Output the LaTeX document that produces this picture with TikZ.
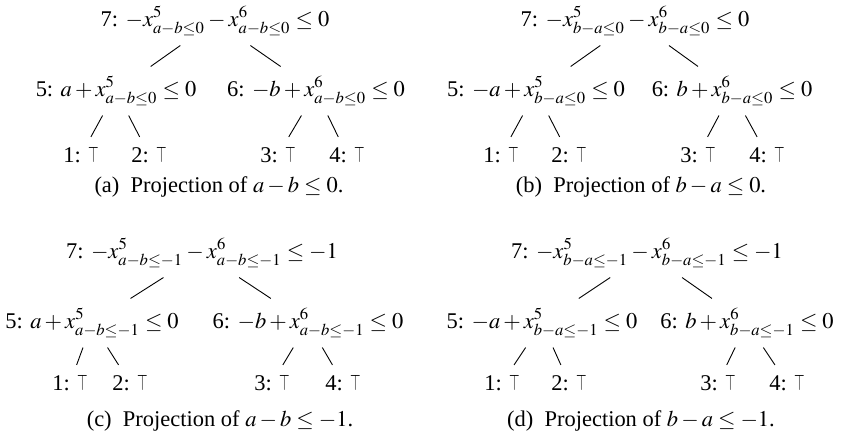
\documentclass[tikz,border=0pt]{standalone}
\usepackage{mathptmx}
\usepackage{fontspec}
\setmainfont{Liberation Serif}
\newcommand{\thintop}{\scalebox{0.6}[1]{$\top$}}

\begin{document}
\begin{tikzpicture}[
x=0.445pt, y=-0.445pt,
term/.style={inner xsep=1pt, inner ysep=4.3pt},
capt/.style={inner sep=0pt},
link/.style={line width=0.4pt}
]
\useasboundingbox (0,0) rectangle (845,443);

% (a) projection of a-b<=0
\node[term] (a7) at (215,21) {7: $-x^5_{a-b\le 0}-x^6_{a-b\le 0}\le 0$};
\node[term] (a5) at (116,91) {5: $a+x^5_{a-b\le 0}\le 0$};
\node[term] (a6) at (316,91) {6: $-b+x^6_{a-b\le 0}\le 0$};
\node[term] (a1) at (81,155) {1: \thintop};
\node[term] (a2) at (149,155) {2: \thintop};
\node[term] (a3) at (278,155) {3: \thintop};
\node[term] (a4) at (347,155) {4: \thintop};
\node[capt] (acap) at (219,187) {(a)\ \ Projection of $a-b\le 0$.};

\draw[link] (a7) -- (a5);
\draw[link] (a7) -- (a6);
\draw[link] (a5) -- (a1);
\draw[link] (a5) -- (a2);
\draw[link] (a6) -- (a3);
\draw[link] (a6) -- (a4);

% (b) projection of b-a<=0
\node[term] (b7) at (635,21) {7: $-x^5_{b-a\le 0}-x^6_{b-a\le 0}\le 0$};
\node[term] (b5) at (536,91) {5: $-a+x^5_{b-a\le 0}\le 0$};
\node[term] (b6) at (732,91) {6: $b+x^6_{b-a\le 0}\le 0$};
\node[term] (b1) at (501,155) {1: \thintop};
\node[term] (b2) at (569,155) {2: \thintop};
\node[term] (b3) at (698,155) {3: \thintop};
\node[term] (b4) at (767,155) {4: \thintop};
\node[capt] (bcap) at (641,187) {(b)\ \ Projection of $b-a\le 0$.};

\draw[link] (b7) -- (b5);
\draw[link] (b7) -- (b6);
\draw[link] (b5) -- (b1);
\draw[link] (b5) -- (b2);
\draw[link] (b6) -- (b3);
\draw[link] (b6) -- (b4);

% (c) projection of a-b<=-1
\node[term] (c7) at (202,253) {7: $-x^5_{a-b\le -1}-x^6_{a-b\le -1}\le -1$};
\node[term] (c5) at (92,323) {5: $a+x^5_{a-b\le -1}\le 0$};
\node[term] (c6) at (308,323) {6: $-b+x^6_{a-b\le -1}\le 0$};
\node[term] (c1) at (70,383) {1: \thintop};
\node[term] (c2) at (130,383) {2: \thintop};
\node[term] (c3) at (272,383) {3: \thintop};
\node[term] (c4) at (343,383) {4: \thintop};
\node[capt] (ccap) at (220,421) {(c)\ \ Projection of $a-b\le -1$.};

\draw[link] (c7) -- (c5);
\draw[link] (c7) -- (c6);
\draw[link] (c5) -- (c1);
\draw[link] (c5) -- (c2);
\draw[link] (c6) -- (c3);
\draw[link] (c6) -- (c4);

% (d) projection of b-a<=-1
\node[term] (d7) at (647,253) {7: $-x^5_{b-a\le -1}-x^6_{b-a\le -1}\le -1$};
\node[term] (d5) at (542,323) {5: $-a+x^5_{b-a\le -1}\le 0$};
\node[term] (d6) at (747,323) {6: $b+x^6_{b-a\le -1}\le 0$};
\node[term] (d1) at (502,383) {1: \thintop};
\node[term] (d2) at (569,383) {2: \thintop};
\node[term] (d3) at (718,383) {3: \thintop};
\node[term] (d4) at (787,383) {4: \thintop};
\node[capt] (dcap) at (641,421) {(d)\ \ Projection of $b-a\le -1$.};

\draw[link] (d7) -- (d5);
\draw[link] (d7) -- (d6);
\draw[link] (d5) -- (d1);
\draw[link] (d5) -- (d2);
\draw[link] (d6) -- (d3);
\draw[link] (d6) -- (d4);
\end{tikzpicture}
\end{document}
